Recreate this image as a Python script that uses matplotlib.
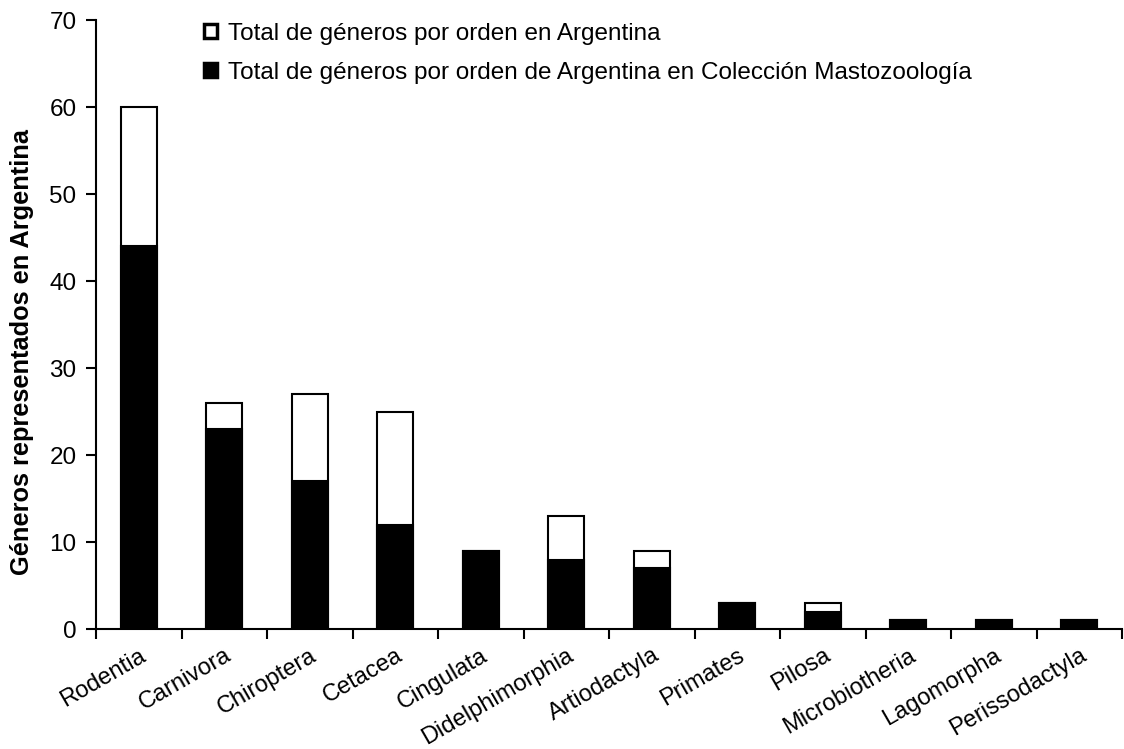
import numpy as np
import matplotlib.pyplot as plt
from matplotlib.patches import Patch

plt.rcParams['font.family'] = ['Liberation Sans', 'DejaVu Sans']

# Datos
ordenes = ['Rodentia', 'Carnivora', 'Chiroptera', 'Cetacea', 'Cingulata',
           'Didelphimorphia', 'Artiodactyla', 'Primates', 'Pilosa',
           'Microbiotheria', 'Lagomorpha', 'Perissodactyla']
total_argentina = [60, 26, 27, 25, 9, 13, 9, 3, 3, 1, 1, 1]
en_coleccion = [44, 23, 17, 12, 9, 8, 7, 3, 2, 1, 1, 1]

fig = plt.figure(figsize=(11.24, 7.49), dpi=100)
ax = fig.add_axes([0.0854, 0.160, 0.913, 0.813])

x = np.arange(len(ordenes))
ancho = 0.42

# Barras blancas (total) y negras (coleccion) superpuestas
ax.bar(x, total_argentina, width=ancho, color='white', edgecolor='black', linewidth=1.5, zorder=2)
ax.bar(x, en_coleccion, width=ancho, color='black', edgecolor='black', linewidth=1.5, zorder=3)

ax.set_xlim(-0.5, len(ordenes) - 0.5)
ax.set_ylim(0, 70)
ax.set_yticks(np.arange(0, 71, 10))
ax.tick_params(axis='y', labelsize=17.5, length=7, width=1.5, direction='out', pad=7)

# Ticks en los limites de cada categoria, etiquetas en el centro
ax.set_xticks(np.arange(len(ordenes) + 1) - 0.5)
ax.set_xticklabels([])
ax.tick_params(axis='x', which='major', length=7, width=1.5, direction='out')
ax.set_xticks(x, minor=True)
ax.set_xticklabels(ordenes, minor=True, rotation=30, ha='right',
                   rotation_mode='anchor', fontsize=17)
ax.tick_params(axis='x', which='minor', length=0, pad=11)

ax.spines['top'].set_visible(False)
ax.spines['right'].set_visible(False)
ax.spines['left'].set_linewidth(1.5)
ax.spines['bottom'].set_linewidth(1.5)

ax.set_ylabel('Géneros representados en Argentina', fontsize=18.3, fontweight='bold')
ax.yaxis.set_label_coords(-0.060, 0.455)

handles = [Patch(facecolor='white', edgecolor='black', linewidth=2.5),
           Patch(facecolor='black', edgecolor='black', linewidth=2.5)]
etiquetas = ['Total de géneros por orden en Argentina',
             'Total de géneros por orden de Argentina en Colección Mastozoología']
ax.legend(handles, etiquetas, loc='upper left', bbox_to_anchor=(0.105, 0.996),
          frameon=False, fontsize=17.5, handlelength=0.55, handleheight=0.55,
          handletextpad=0.45, labelspacing=0.7, borderpad=0, borderaxespad=0)

plt.savefig('out.png', dpi=100)
